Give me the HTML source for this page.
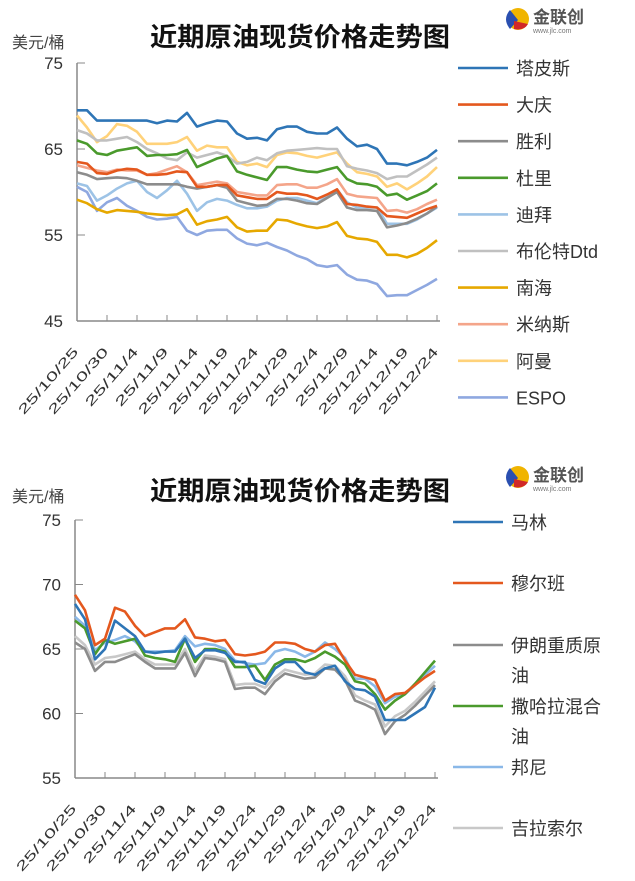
<!DOCTYPE html>
<html><head><meta charset="utf-8">
<style>
body{margin:0;background:#fff;width:635px;height:881px;overflow:hidden;font-family:"Liberation Sans","Noto Sans CJK SC",sans-serif;}
svg{position:absolute;left:0;top:0}
</style></head>
<body>
<svg id="c" width="635" height="881"></svg>
<script>
const dateLabels=["25/10/25","25/10/30","25/11/4","25/11/9","25/11/14","25/11/19","25/11/24","25/11/29","25/12/4","25/12/9","25/12/14","25/12/19","25/12/24"];
const topTicks=[75,65,55,45];
const botTicks=[75,70,65,60,55];
const topNames=["塔皮斯","大庆","胜利","杜里","迪拜","布伦特Dtd","南海","米纳斯","阿曼","ESPO"];
const topColors=["#2e75b6","#e4581e","#8c8c8c","#4a9a2c","#9dc3e6","#c0c0c0","#e6a800","#f4a58a","#ffd27a","#8fa8e0"];
const tapis=[69.5,69.5,68.3,68.3,68.3,68.3,68.3,68.3,68.0,68.3,68.2,69.2,67.6,68.0,68.3,68.2,66.8,66.2,66.3,66.0,67.3,67.6,67.6,67.0,66.8,66.8,67.5,66.2,65.3,65.5,65.0,63.3,63.3,63.1,63.5,64.0,64.9];
const daqing=[63.5,63.3,62.2,62.1,62.5,62.7,62.6,62.0,62.0,62.1,62.4,62.3,60.6,60.6,60.8,60.8,59.6,59.4,59.2,59.2,60.0,59.8,59.8,59.6,59.2,59.7,60.3,58.6,58.5,58.3,58.2,57.2,57.1,57.0,57.5,58.0,58.4];
const shengli=[62.3,62.0,61.5,61.6,61.7,61.6,61.3,60.9,60.9,60.9,60.9,60.6,60.4,60.6,60.8,60.5,59.0,58.7,58.4,58.5,59.2,59.2,59.0,58.7,58.6,59.3,60.0,58.2,57.9,57.9,57.8,55.9,56.1,56.4,56.9,57.5,58.3];
const duri=[66.0,65.6,64.5,64.3,64.8,65.0,65.2,64.2,64.3,64.3,64.4,64.9,62.9,63.4,63.9,64.2,62.4,62.0,61.7,61.4,62.9,62.9,62.6,62.4,62.3,62.6,62.9,61.5,61.0,60.9,60.6,59.6,59.8,59.1,59.6,60.1,61.0];
const dubai=[61.0,60.7,59.0,59.6,60.4,61.0,61.3,60.0,59.3,60.2,61.3,59.8,57.8,58.8,59.2,59.0,58.5,58.1,58.1,58.3,59.0,59.3,59.3,59.0,58.7,59.5,60.3,58.8,58.2,58.2,58.2,56.3,56.3,56.3,56.8,57.5,58.2];
const brent=[67.2,66.8,66.0,66.0,66.2,66.4,65.8,65.0,64.5,63.9,63.7,64.6,64.0,64.3,64.6,64.2,63.3,63.5,64.0,63.7,64.5,64.8,64.9,65.0,65.1,65.0,65.0,63.0,62.7,62.5,62.2,61.5,61.8,61.8,62.5,63.2,64.0];
const nanhai=[59.1,58.7,58.0,57.6,57.9,57.8,57.7,57.5,57.4,57.3,57.4,58.0,56.2,56.6,56.8,57.1,55.9,55.4,55.5,55.5,56.8,56.7,56.3,56.0,55.8,56.0,56.5,54.9,54.6,54.5,54.2,52.7,52.7,52.4,52.8,53.5,54.4];
const minas=[63.1,62.8,62.5,62.3,62.6,62.5,62.5,62.0,62.2,62.6,63.0,62.3,60.8,61.0,61.2,61.0,60.0,59.8,59.6,59.6,60.8,60.9,60.9,60.5,60.5,60.9,61.5,59.8,59.5,59.4,59.3,57.8,57.9,57.6,58.0,58.6,59.1];
const oman=[68.9,67.5,65.8,66.5,67.9,67.7,67.0,65.6,65.6,65.6,65.8,66.4,64.8,65.4,65.2,65.2,63.5,63.1,63.3,62.9,64.3,64.6,64.5,64.2,64.0,64.3,64.6,63.3,62.3,62.1,61.8,60.6,61.0,60.3,61.0,61.8,62.9];
const espo=[60.6,60.0,57.8,58.8,59.3,58.4,57.8,57.1,56.8,56.9,57.1,55.5,55.0,55.5,55.6,55.6,54.6,54.0,53.8,54.1,53.6,53.2,52.6,52.2,51.5,51.3,51.5,50.4,49.8,49.7,49.3,47.9,48.0,48.0,48.6,49.2,49.9];
const botNames=["马林","穆尔班","伊朗重质原油","撒哈拉混合油","邦尼","吉拉索尔"];
const botColors=["#2e75b6","#e4581e","#8c8c8c","#4a9a2c","#8ab8e8","#c8c8c8"];
const marine=[68.5,67.3,64.2,65.0,67.2,66.6,66.0,64.8,64.7,64.8,64.8,65.8,64.3,64.9,64.9,64.7,64.0,64.0,62.6,62.3,63.5,64.0,64.0,63.2,63.0,63.5,63.7,62.5,61.9,61.8,61.3,59.5,59.5,59.5,60.0,60.5,62.0];
const murban=[69.2,68.0,65.3,65.8,68.2,67.9,66.8,66.0,66.3,66.6,66.6,67.3,65.9,65.8,65.6,65.7,64.6,64.5,64.6,64.8,65.5,65.5,65.4,65.0,64.8,65.3,65.4,64.1,63.0,62.8,62.6,61.0,61.5,61.6,62.2,62.8,63.3];
const iranH=[65.5,65.0,63.3,64.0,64.0,64.3,64.6,64.0,63.5,63.5,63.5,64.7,62.9,64.3,64.2,64.0,61.9,62.0,62.0,61.5,62.5,63.1,62.9,62.7,62.8,63.5,63.4,62.6,61.0,60.7,60.3,58.4,59.4,59.9,60.6,61.4,62.2];
const saharan=[67.2,66.6,64.6,65.7,65.4,65.6,65.8,64.5,64.3,64.2,64.0,65.8,64.0,65.0,65.0,64.8,63.6,63.6,63.7,62.6,63.8,64.2,64.2,64.0,64.3,64.8,64.4,63.8,62.5,62.3,61.5,60.3,61.0,61.5,62.3,63.2,64.1];
const bonny=[67.5,66.8,64.9,65.5,65.7,66.0,65.6,64.8,64.8,64.8,64.9,66.0,65.2,65.4,65.3,65.0,64.1,63.9,63.8,63.9,64.8,65.0,64.8,64.4,64.8,65.5,65.0,64.3,62.7,62.7,62.1,60.8,61.3,61.5,62.2,63.0,63.7];
const girassol=[66.0,65.3,63.8,64.3,64.4,64.6,64.8,64.2,63.8,63.8,63.8,65.0,63.3,64.5,64.4,64.2,62.2,62.3,62.3,62.0,62.8,63.4,63.2,63.0,63.1,63.8,63.7,62.9,61.4,61.0,60.7,59.0,59.8,60.2,60.9,61.7,62.5];

const NS="http://www.w3.org/2000/svg";
const svg=document.getElementById('c');
function mk(t,a,p){const e=document.createElementNS(NS,t);for(const k in a)e.setAttribute(k,a[k]);(p||svg).appendChild(e);return e;}

function chart(cfg){
  const g=mk('g',{});
  
  
  const xS=i=>cfg.x0+(cfg.x1-cfg.x0)*i/(cfg.n-1);
  const yS=v=>cfg.yTop+(cfg.vMax-v)*(cfg.yBot-cfg.yTop)/(cfg.vMax-cfg.vMin);
  const t=mk('text',{x:150,y:cfg.titleY,'font-size':26,'font-weight':'bold',fill:'#111',textLength:300,lengthAdjust:'spacingAndGlyphs'},g);t.textContent="近期原油现货价格走势图";
  
  const u=mk('text',{x:12,y:cfg.unitY,'font-size':16,fill:'#444'},g);u.textContent="美元/桶";
  
  const lg=mk('g',{},g);
  const ly=cfg.logoY;
  mk('circle',{cx:518,cy:ly+13,r:11,fill:'#f0b400'},lg);
  mk('path',{d:`M510 ${ly+4} q-8 9 0 19 l8 -9z`,fill:'#2a4fb0'},lg);
  mk('path',{d:`M514 ${ly+15} l14 3 q-4 7 -14 5z`,fill:'#d02828'},lg);
  const lt=mk('text',{x:533,y:ly+17,'font-size':17,'font-weight':'bold',fill:'#555'},lg);lt.textContent="金联创";
  const ls=mk('text',{x:533,y:ly+27,'font-size':7,fill:'#777'},lg);ls.textContent="www.jlc.com";
  mk('line',{x1:cfg.x0,y1:cfg.yTop,x2:cfg.x0,y2:cfg.yBot,stroke:'#888','stroke-width':1.5},g);
  mk('line',{x1:cfg.x0,y1:cfg.yBot,x2:cfg.x1+3,y2:cfg.yBot,stroke:'#888','stroke-width':1.5},g);
  cfg.ticks.forEach(v=>{
    const y=yS(v);
    mk('line',{x1:cfg.x0,y1:y,x2:cfg.x0+8,y2:y,stroke:'#888'},g);
    const tx=mk('text',{x:cfg.x0-14,y:y+6,'font-size':17,fill:'#333','text-anchor':'end'},g);tx.textContent=v;
    
  });
  dateLabels.forEach((d,k)=>{
    const x=cfg.x0+(cfg.x1-cfg.x0)*k/(dateLabels.length-1);
    mk('line',{x1:x,y1:cfg.yBot,x2:x,y2:cfg.yBot-6,stroke:'#888'},g);
    const lx=x+2, ly2=cfg.yBot+31;
    const tx=mk('text',{x:lx,y:ly2,'font-size':13,fill:'#333','text-anchor':'end',textLength:d.length*10.5,lengthAdjust:'spacingAndGlyphs',transform:`rotate(-49 ${lx} ${ly2})`},g);tx.textContent=d;
    
  });
  for(let s=cfg.series.length-1;s>=0;s--){
    const pts=cfg.series[s].map((v,i)=>xS(i).toFixed(1)+','+yS(v).toFixed(1)).join(' ');
    const pl=mk('polyline',{points:pts,fill:'none',stroke:cfg.colors[s],'stroke-width':2.6,'stroke-linejoin':'round'},g);
    
  }
  cfg.legend.forEach((it,s)=>{
    const le=mk('g',{},g);
    mk('line',{x1:cfg.legX,y1:it.y,x2:cfg.legX+50,y2:it.y,stroke:cfg.colors[s],'stroke-width':2.6},le);
    it.lines.forEach((ln,j)=>{const tt=mk('text',{x:cfg.legX+58,y:it.y+7+j*30,'font-size':18,fill:'#333'},le);tt.textContent=ln;});
  });
}
chart({name:'top-chart',n:37,x0:77,x1:437,yTop:63,yBot:321,vMax:75,vMin:45,ticks:topTicks,titleY:46,unitY:48,logoY:6,
  series:[tapis,daqing,shengli,duri,dubai,brent,nanhai,minas,oman,espo],colors:topColors,legX:458,
  legend:topNames.map((n,i)=>({y:68+36.6*i,lines:[n]}))});
chart({name:'bottom-chart',n:37,x0:75,x1:435,yTop:520,yBot:778,vMax:75,vMin:55,ticks:botTicks,titleY:500,unitY:502,logoY:464,
  series:[marine,murban,iranH,saharan,bonny,girassol],colors:botColors,legX:453,
  legend:[{y:522,lines:["马林"]},{y:583,lines:["穆尔班"]},{y:645,lines:["伊朗重质原","油"]},{y:706,lines:["撒哈拉混合","油"]},{y:767,lines:["邦尼"]},{y:828,lines:["吉拉索尔"]}]});
</script>
</body></html>
